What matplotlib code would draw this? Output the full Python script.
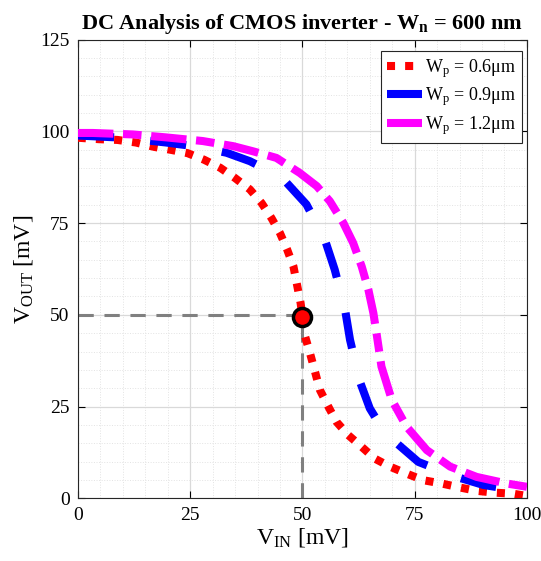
import matplotlib
matplotlib.use("Agg")
import matplotlib.pyplot as plt
from matplotlib.ticker import MultipleLocator

plt.rcParams["font.family"] = ["Liberation Serif", "DejaVu Serif"]
plt.rcParams["mathtext.fontset"] = "custom"
plt.rcParams["mathtext.rm"] = "Liberation Serif"
plt.rcParams["mathtext.it"] = "Liberation Serif:italic"
plt.rcParams["mathtext.bf"] = "Liberation Serif:bold"

# V_IN [mV] and V_OUT [mV]
vin_06 = [0, 4.7, 8.8, 12.9, 17, 20.7, 24.4, 28.1, 31.7, 35, 38.3, 40.9, 43.1, 45, 46.6,
          48, 48.8, 49.6, 50, 50.6, 51.7, 52.8, 53.9, 55.8, 57.6, 60.2, 63.2, 66.1, 69.5,
          73.2, 76.9, 81, 85.1, 88.8, 92.9, 97, 100]
vout_06 = [98.3, 97.9, 97.7, 97, 95.8, 95, 94.1, 92.3, 90.1, 87.3, 84.2, 80.5, 76.4, 72.3, 67.8,
           63.2, 58.2, 53.2, 49.5, 44.1, 39.5, 34.5, 29.5, 24.9, 20.8, 17.2, 14, 10.8, 8.6,
           6.7, 4.9, 4.0, 2.9, 2.0, 1.5, 1.2, 0.6]

vin_09 = [0, 10, 19.6, 27, 33.1, 38.3, 42.5, 46.5, 50.9, 55, 57.2, 59.5, 60.6, 62.8, 65,
          67.5, 70.6, 75.8, 84.3, 90.3, 100]
vout_09 = [98.9, 98.3, 97, 95.8, 94.2, 91.9, 89.3, 86, 80.1, 70.5, 62.3, 51.4, 43.2, 31.8, 24.5,
           19.5, 15.4, 9.9, 5.8, 3.6, 1.7]

vin_12 = [0, 3.3, 12.2, 19.6, 27.8, 34.6, 39, 44.2, 49.4, 53.2, 56.1, 59.1, 61.3, 63.2, 64.7,
          65.8, 66.5, 67.6, 69.9, 73.2, 77.7, 82.9, 88.8, 95.5, 100]
vout_12 = [99.6, 99.6, 99.2, 98.4, 97.4, 96, 94.6, 92.8, 88.7, 85.1, 81, 75.1, 69.6, 63.2, 56.8,
           50.5, 45, 35.9, 26.8, 19.5, 13.1, 8.6, 5.8, 4.0, 3.1]

labels = [r"W$_{\rm p}$ = 0.6μm", r"W$_{\rm p}$ = 0.9μm", r"W$_{\rm p}$ = 1.2μm"]
switch_point = (50, 49.5)

fig = plt.figure(figsize=(5.41, 5.61), dpi=100)
ax = fig.add_axes([0.144, 0.112, 0.830, 0.817])

ax.plot(vin_06, vout_06, color="red", lw=5.8, linestyle=(0, (1, 1.25)),
        dash_capstyle="butt", label=labels[0], zorder=3)
ax.plot(vin_09, vout_09, color="blue", lw=5.8, linestyle=(0, (4.5, 4.5)),
        dash_capstyle="butt", label=labels[1], zorder=4)
ax.plot(vin_12, vout_12, color="magenta", lw=5.8, linestyle=(0, (4.4, 1.2, 2.3, 1.2)),
        dash_capstyle="butt", label=labels[2], zorder=5)

ax.plot([0, switch_point[0]], [50, 50], color="gray", lw=2.2, linestyle=(0, (5, 3.5)), zorder=2)
ax.plot([switch_point[0], switch_point[0]], [0, 50], color="gray", lw=2.2, linestyle=(0, (5, 3.5)), zorder=2)
ax.plot(*switch_point, "o", color="red", markeredgecolor="black", markeredgewidth=2.5,
        markersize=13, zorder=6)

ax.set_xlim(0, 100)
ax.set_ylim(0, 125)
ax.xaxis.set_major_locator(MultipleLocator(25))
ax.yaxis.set_major_locator(MultipleLocator(25))
ax.xaxis.set_minor_locator(MultipleLocator(5))
ax.yaxis.set_minor_locator(MultipleLocator(5))
ax.grid(True, which="major", color="#d9d9d9", lw=0.9)
ax.grid(True, which="minor", color="#e3e3e3", lw=0.7, linestyle=":")
ax.set_axisbelow(True)
ax.tick_params(which="major", direction="in", top=True, right=True, length=5,
               labelsize=14, width=0.8, pad=6)
ax.tick_params(which="minor", length=0)
for s in ax.spines.values():
    s.set_color("#262626")
    s.set_linewidth(0.8)

ax.set_xlabel(r"V$_{\rm IN}$ [mV]", fontsize=17, labelpad=2)
ax.set_ylabel(r"V$_{\rm OUT}$ [mV]", fontsize=17, labelpad=4)
ax.set_title(r"DC Analysis of CMOS inverter - W$_{\bf n}$ = 600 nm", fontsize=16,
             fontweight="bold", pad=8)

leg = ax.legend(loc="upper right", bbox_to_anchor=(0.99, 0.976), fontsize=13,
                handlelength=1.9, handletextpad=0.2, borderpad=0.35, labelspacing=0.3,
                fancybox=False, framealpha=1, edgecolor="#262626", borderaxespad=0.0)
leg.get_frame().set_linewidth(0.8)

fig.savefig("out.png", dpi=100)
